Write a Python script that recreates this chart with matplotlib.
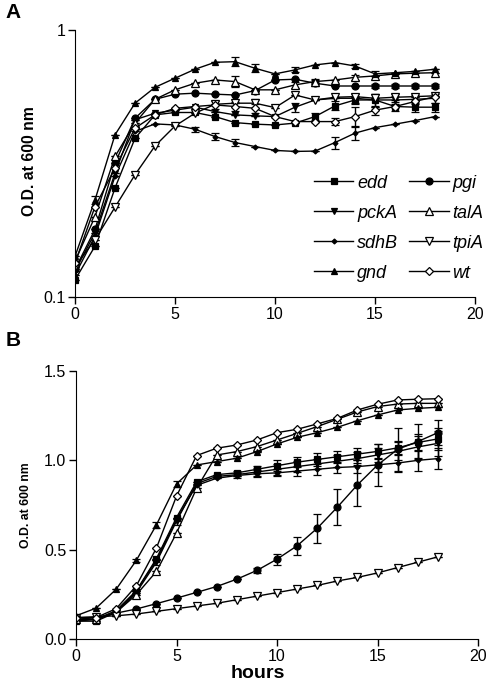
import matplotlib
matplotlib.use("Agg")
import matplotlib.pyplot as plt
from matplotlib.ticker import FixedLocator, FixedFormatter, NullLocator

plt.rcParams['font.family'] = ['Liberation Sans', 'DejaVu Sans']

hours = list(range(19))

# ---------- Panel A (log scale) ----------
edd_a  = [0.116,0.155,0.256,0.393,0.481,0.491,0.491,0.474,0.450,0.444,0.441,0.448,0.474,0.520,0.547,0.547,0.517,0.514,0.514]
pgi_a  = [0.127,0.179,0.317,0.467,0.550,0.575,0.580,0.575,0.571,0.593,0.650,0.654,0.632,0.617,0.617,0.617,0.617,0.617,0.617]
pckA_a = [0.125,0.174,0.291,0.461,0.488,0.501,0.514,0.495,0.481,0.477,0.474,0.514,0.547,0.555,0.555,0.547,0.547,0.550,0.555]
talA_a = [0.136,0.200,0.336,0.448,0.550,0.597,0.632,0.650,0.641,0.597,0.597,0.623,0.641,0.650,0.665,0.673,0.685,0.689,0.692]
sdhB_a = [0.121,0.169,0.283,0.417,0.445,0.441,0.425,0.399,0.379,0.366,0.354,0.351,0.352,0.379,0.411,0.431,0.444,0.458,0.474]
tpiA_a = [0.130,0.164,0.217,0.287,0.368,0.437,0.488,0.527,0.532,0.532,0.512,0.571,0.547,0.560,0.563,0.555,0.560,0.563,0.567]
gnd_a  = [0.142,0.231,0.405,0.532,0.610,0.660,0.713,0.757,0.761,0.719,0.685,0.709,0.740,0.755,0.733,0.685,0.692,0.700,0.713]
wt_a   = [0.134,0.218,0.304,0.429,0.481,0.509,0.517,0.524,0.517,0.509,0.474,0.454,0.454,0.454,0.474,0.501,0.517,0.540,0.563]

edd_a_err  = [0,0,0,0,0,0,0,0,0,0,0,0,0.015,0.02,0.02,0.03,0.02,0.02,0.02]
pgi_a_err  = [0,0,0,0,0,0,0,0,0,0,0,0,0.015,0,0,0.01,0.01,0.01,0.01]
pckA_a_err = [0,0,0,0,0,0,0,0,0,0,0,0.02,0,0,0.02,0.03,0.02,0.02,0.02]
talA_a_err = [0,0,0,0,0,0,0,0,0.03,0,0,0.015,0.015,0,0.015,0,0,0,0]
sdhB_a_err = [0,0,0,0,0,0,0.01,0.012,0.012,0,0,0,0,0.02,0.025,0,0,0,0]
tpiA_a_err = [0,0,0,0,0,0,0,0,0,0.02,0,0,0,0,0,0,0.015,0,0]
gnd_a_err  = [0,0.008,0,0,0,0,0,0,0.03,0.025,0,0.015,0,0,0.012,0.015,0,0,0]
wt_a_err   = [0,0,0,0,0,0,0,0.02,0.02,0.02,0,0,0,0.015,0.04,0.02,0,0,0]

# ---------- Panel B (linear scale) ----------
edd_b  = [0.10,0.10,0.15,0.27,0.45,0.68,0.88,0.92,0.93,0.95,0.97,0.99,1.005,1.02,1.035,1.05,1.07,1.10,1.12]
pgi_b  = [0.11,0.12,0.145,0.168,0.198,0.229,0.261,0.294,0.335,0.384,0.447,0.522,0.620,0.738,0.863,0.974,1.062,1.105,1.155]
pckA_b = [0.10,0.11,0.15,0.26,0.43,0.66,0.87,0.91,0.92,0.935,0.95,0.965,0.98,0.995,1.01,1.03,1.05,1.075,1.095]
talA_b = [0.11,0.11,0.15,0.248,0.378,0.593,0.844,1.030,1.049,1.077,1.114,1.151,1.189,1.230,1.271,1.301,1.315,1.319,1.319]
sdhB_b = [0.11,0.11,0.16,0.27,0.44,0.67,0.86,0.90,0.915,0.925,0.93,0.94,0.95,0.96,0.965,0.975,0.985,1.00,1.01]
tpiA_b = [0.12,0.125,0.13,0.14,0.155,0.17,0.185,0.20,0.22,0.24,0.26,0.28,0.30,0.325,0.345,0.37,0.40,0.43,0.46]
gnd_b  = [0.13,0.173,0.279,0.440,0.639,0.868,0.974,0.993,1.012,1.049,1.092,1.129,1.155,1.185,1.222,1.254,1.282,1.291,1.297]
wt_b   = [0.12,0.12,0.17,0.298,0.509,0.800,1.027,1.068,1.086,1.114,1.155,1.174,1.204,1.235,1.282,1.314,1.338,1.342,1.345]

edd_b_err  = [0,0,0,0,0,0,0,0,0,0.02,0.03,0.03,0.035,0.035,0.035,0.04,0.04,0.05,0.06]
pgi_b_err  = [0,0,0,0,0,0,0,0,0,0.015,0.03,0.05,0.08,0.10,0.12,0.12,0.12,0.10,0.07]
pckA_b_err = [0,0,0,0,0.015,0.02,0,0,0.02,0.02,0.03,0.03,0.03,0.035,0.035,0.04,0.05,0.06,0.07]
talA_b_err = [0]*19
sdhB_b_err = [0,0,0,0,0,0,0,0,0,0.02,0.02,0.03,0.03,0.03,0.035,0.04,0.05,0.06,0.06]
tpiA_b_err = [0]*19
gnd_b_err  = [0,0,0,0.01,0.015,0.015,0,0,0,0,0,0,0,0,0,0,0,0,0]
wt_b_err   = [0]*19

labels = ['edd', 'pgi', 'pckA', 'talA', 'sdhB', 'tpiA', 'gnd', 'wt']
styles = {
    'edd':  dict(marker='s', ms=5, mfc='black'),
    'pgi':  dict(marker='o', ms=5, mfc='black'),
    'pckA': dict(marker='v', ms=5, mfc='black'),
    'talA': dict(marker='^', ms=5.5, mfc='white'),
    'sdhB': dict(marker='D', ms=2.5, mfc='black'),
    'tpiA': dict(marker='v', ms=5.5, mfc='white'),
    'gnd':  dict(marker='^', ms=5, mfc='black'),
    'wt':   dict(marker='D', ms=4.5, mfc='white'),
}
data_a = {'edd': (edd_a, edd_a_err), 'pgi': (pgi_a, pgi_a_err), 'pckA': (pckA_a, pckA_a_err),
          'talA': (talA_a, talA_a_err), 'sdhB': (sdhB_a, sdhB_a_err), 'tpiA': (tpiA_a, tpiA_a_err),
          'gnd': (gnd_a, gnd_a_err), 'wt': (wt_a, wt_a_err)}
data_b = {'edd': (edd_b, edd_b_err), 'pgi': (pgi_b, pgi_b_err), 'pckA': (pckA_b, pckA_b_err),
          'talA': (talA_b, talA_b_err), 'sdhB': (sdhB_b, sdhB_b_err), 'tpiA': (tpiA_b, tpiA_b_err),
          'gnd': (gnd_b, gnd_b_err), 'wt': (wt_b, wt_b_err)}

fig = plt.figure(figsize=(4.98, 6.82), dpi=100)
axA = fig.add_axes([0.1506, 0.5645, 0.8034, 0.3915])
axB = fig.add_axes([0.1526, 0.063, 0.8074, 0.393])

handles = {}
for ax, data in ((axA, data_a), (axB, data_b)):
    for name in labels:
        y, e = data[name]
        st = styles[name]
        eb = ax.errorbar(hours, y, yerr=e, color='black', lw=1.0, mec='black', mew=0.9,
                         capsize=3, elinewidth=1.0, capthick=1.0, label=name,
                         marker=st['marker'], ms=st['ms'], mfc=st['mfc'])
        if ax is axA:
            handles[name] = eb[0]
    ax.spines['top'].set_visible(False)
    ax.spines['right'].set_visible(False)
    ax.set_xlim(0, 20)
    ax.set_xticks([0, 5, 10, 15, 20])
    ax.tick_params(direction='out', length=5, width=1, labelsize=11.5, pad=2)

axA.set_yscale('log')
axA.set_ylim(0.1, 1)
axA.yaxis.set_major_locator(FixedLocator([0.1, 1]))
axA.yaxis.set_major_formatter(FixedFormatter(['0.1', '1']))
axA.yaxis.set_minor_locator(NullLocator())
axA.set_ylabel('O.D. at 600 nm', fontsize=11.3, fontweight='bold')
axA.yaxis.set_label_coords(-0.094, 0.51)

axB.set_ylim(0, 1.5)
axB.set_yticks([0.0, 0.5, 1.0, 1.5])
axB.set_yticklabels(['0.0', '0.5', '1.0', '1.5'])
axB.set_ylabel('O.D. at 600 nm', fontsize=8.8, fontweight='bold')
axB.yaxis.set_label_coords(-0.11, 0.5)
axB.set_xlabel('hours', fontsize=14, fontweight='bold')
axB.xaxis.set_label_coords(0.453, -0.098)

order = ['edd', 'pckA', 'sdhB', 'gnd', 'pgi', 'talA', 'tpiA', 'wt']
leg = axA.legend([handles[n] for n in order], order, ncol=2, frameon=False,
                 loc='upper left', bbox_to_anchor=(0.565, 0.505),
                 prop={'style': 'italic', 'size': 13}, handlelength=2.2,
                 columnspacing=0.6, labelspacing=0.72, handletextpad=0.2,
                 borderaxespad=0.3)

fig.text(0.012, 0.995, 'A', fontsize=15, fontweight='bold', va='top')
fig.text(0.012, 0.515, 'B', fontsize=15, fontweight='bold', va='top')

fig.savefig('out.png', dpi=100)
